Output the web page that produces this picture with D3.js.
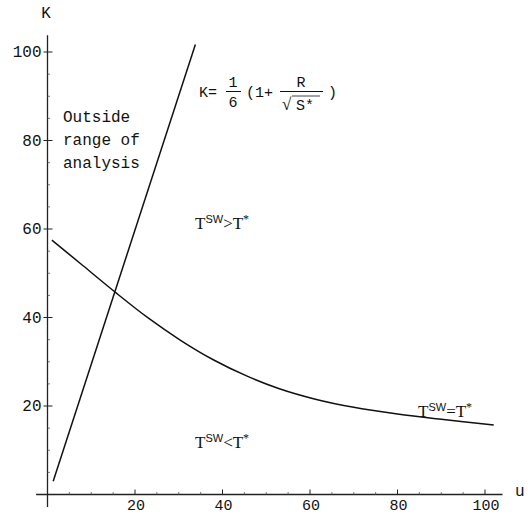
<!DOCTYPE html>
<html>
<head>
<meta charset="utf-8">
<script src="https://cdn.jsdelivr.net/npm/d3@7"></script>
<style>
  body { margin: 0; background: white; }
  svg { display: block; }
  .lbl { font-family: "Liberation Mono", "Courier New", monospace; font-size: 16px; fill: #111; }
  .tt { font-family: "Liberation Serif", "Times New Roman", serif; font-size: 17px; fill: #111; }
</style>
</head>
<body>
<div id="chart"></div>
<script>
// tick values
var xTicks = [20, 40, 60, 80, 100];
var yTicks = [20, 40, 60, 80, 100];

// straight boundary line K(u)
var lineU = [1.3, 33.8];
var lineK = [3.0, 101.7];

// T^SW = T* curve
var curveU = [1, 8, 15.5, 23, 30.5, 38, 45.5, 53, 61, 70, 80, 90, 102];
var curveK = [57.5, 51.8, 45.7, 39.9, 34.8, 30.4, 26.8, 23.9, 21.6, 19.7, 18.2, 17.0, 15.7];

var width = 528, height = 516;

var svg = d3.select("#chart")
    .append("svg")
    .attr("width", width)
    .attr("height", height);

svg.append("rect")
    .attr("width", "100%")
    .attr("height", "100%")
    .attr("fill", "white");

var x = d3.scaleLinear().domain([0, 100]).range([47.5, 485]);
var y = d3.scaleLinear().domain([0, 100]).range([494.5, 52]);

// axis lines (extend a bit past the data range, Mathematica style)
svg.append("line")
    .attr("x1", x(-2.6)).attr("x2", x(104))
    .attr("y1", y(0)).attr("y2", y(0))
    .attr("stroke", "#222").attr("stroke-width", 1.3);
svg.append("line")
    .attr("x1", x(0)).attr("x2", x(0))
    .attr("y1", y(-2.8)).attr("y2", y(103.8))
    .attr("stroke", "#222").attr("stroke-width", 1.3);

// minor ticks
var minor = d3.range(5, 101, 5).filter(function(d) { return d % 20 != 0; });
svg.selectAll(".xminor")
    .data(minor)
    .enter().append("line")
    .attr("x1", function(d) { return x(d); }).attr("x2", function(d) { return x(d); })
    .attr("y1", y(0)).attr("y2", y(0) - 2.5)
    .attr("stroke", "#555").attr("stroke-width", 0.8);
svg.selectAll(".yminor")
    .data(minor)
    .enter().append("line")
    .attr("x1", x(0)).attr("x2", x(0) + 2.5)
    .attr("y1", function(d) { return y(d); }).attr("y2", function(d) { return y(d); })
    .attr("stroke", "#555").attr("stroke-width", 0.8);

// major ticks
svg.selectAll(".xmajor")
    .data(xTicks)
    .enter().append("line")
    .attr("x1", function(d) { return x(d); }).attr("x2", function(d) { return x(d); })
    .attr("y1", y(0)).attr("y2", y(0) - 5)
    .attr("stroke", "#222").attr("stroke-width", 1);
svg.selectAll(".ymajor")
    .data(yTicks)
    .enter().append("line")
    .attr("x1", x(0) - 4).attr("x2", x(0) + 5)
    .attr("y1", function(d) { return y(d); }).attr("y2", function(d) { return y(d); })
    .attr("stroke", "#222").attr("stroke-width", 1);

// tick labels
svg.selectAll(".xlab")
    .data(xTicks)
    .enter().append("text")
    .attr("class", "lbl")
    .style("font-size", "15px")
    .attr("x", function(d) { return x(d) + 1; })
    .attr("y", y(0) + 15)
    .attr("text-anchor", "middle")
    .text(function(d) { return d; });
svg.selectAll(".ylab")
    .data(yTicks)
    .enter().append("text")
    .attr("class", "lbl")
    .attr("x", x(0) - 6)
    .attr("y", function(d) { return y(d) + 5; })
    .attr("text-anchor", "end")
    .text(function(d) { return d; });

// axis names
svg.append("text").attr("class", "lbl")
    .attr("x", 46).attr("y", 18).attr("text-anchor", "middle").text("K");
svg.append("text").attr("class", "lbl")
    .attr("x", 515).attr("y", 496).text("u");

// the two curves
svg.append("path")
    .datum(d3.zip(lineU, lineK))
    .attr("d", d3.line().x(function(d) { return x(d[0]); }).y(function(d) { return y(d[1]); }))
    .attr("fill", "none").attr("stroke", "#111").attr("stroke-width", 1.5);

svg.append("path")
    .datum(d3.zip(curveU, curveK))
    .attr("d", d3.line().curve(d3.curveCatmullRom)
        .x(function(d) { return x(d[0]); }).y(function(d) { return y(d[1]); }))
    .attr("fill", "none").attr("stroke", "#111").attr("stroke-width", 1.5);

// "Outside range of analysis"
var outside = ["Outside", "range of", "analysis"];
svg.selectAll(".out")
    .data(outside)
    .enter().append("text")
    .attr("class", "lbl")
    .attr("x", 63)
    .attr("y", function(d, i) { return 122 + i * 23; })
    .text(function(d) { return d; });

// formula K = 1/6 (1 + R / sqrt(S*))
var f = svg.append("g");
f.append("text").attr("class", "lbl").style("font-size", "15px")
    .attr("x", 199).attr("y", 97).text("K=");
f.append("text").attr("class", "lbl").style("font-size", "15px")
    .attr("x", 233).attr("y", 87).attr("text-anchor", "middle").text("1");
f.append("line").attr("x1", 226).attr("x2", 241).attr("y1", 91.5).attr("y2", 91.5)
    .attr("stroke", "#111").attr("stroke-width", 1);
f.append("text").attr("class", "lbl").style("font-size", "15px")
    .attr("x", 233).attr("y", 107).attr("text-anchor", "middle").text("6");
f.append("text").attr("class", "lbl").style("font-size", "15px")
    .attr("x", 246).attr("y", 97).text("(1+");
f.append("text").attr("class", "lbl").style("font-size", "15px")
    .attr("x", 301).attr("y", 87).attr("text-anchor", "middle").text("R");
f.append("line").attr("x1", 280).attr("x2", 323).attr("y1", 91.5).attr("y2", 91.5)
    .attr("stroke", "#111").attr("stroke-width", 1);
f.append("text").attr("class", "tt")
    .attr("x", 282).attr("y", 110).text("\u221A");
f.append("line").attr("x1", 292).attr("x2", 320).attr("y1", 96).attr("y2", 96)
    .attr("stroke", "#111").attr("stroke-width", 0.8);
f.append("text").attr("class", "lbl").style("font-size", "15px")
    .attr("x", 296).attr("y", 110).text("S*");
f.append("text").attr("class", "lbl").style("font-size", "15px")
    .attr("x", 328).attr("y", 97).text(")");

// region labels T^SW ? T*
function tLabel(px, py, op) {
    var t = svg.append("text").attr("class", "tt").attr("x", px).attr("y", py);
    t.append("tspan").text("T");
    t.append("tspan").attr("dy", -6).style("font-size", "11px")
        .style("font-family", "Liberation Sans, Arial, sans-serif").text("SW");
    t.append("tspan").attr("dy", 6).text(op + "T");
    t.append("tspan").attr("dy", -6).style("font-size", "12px").text("*");
}
tLabel(195, 229, ">");
tLabel(195, 448, "<");
tLabel(418, 417, "=");
</script>
</body>
</html>
